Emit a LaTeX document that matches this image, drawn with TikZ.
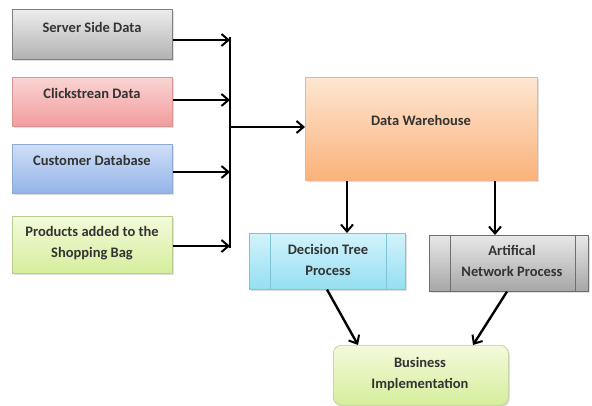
\documentclass[tikz,border=0pt]{standalone}
\usepackage{fontspec}
\setmainfont{Carlito}
\usetikzlibrary{arrows.meta,shadows}

% palette
\definecolor{gryT}{HTML}{EDEDED}\definecolor{gryB}{HTML}{B2B2B2}\definecolor{gryL}{HTML}{7F7F7F}
\definecolor{redT}{HTML}{FAD4D4}\definecolor{redB}{HTML}{F29C9C}\definecolor{redL}{HTML}{D99594}
\definecolor{bluT}{HTML}{CFDFF6}\definecolor{bluB}{HTML}{93B4EA}\definecolor{bluL}{HTML}{8EA9D3}
\definecolor{grnT}{HTML}{F3FADB}\definecolor{grnB}{HTML}{D5EE9C}\definecolor{grnL}{HTML}{B9CE8E}
\definecolor{orgT}{HTML}{FEE6D2}\definecolor{orgB}{HTML}{FAB27A}\definecolor{orgL}{HTML}{F2B38A}
\definecolor{cynT}{HTML}{D2F3FC}\definecolor{cynB}{HTML}{95DFF2}\definecolor{cynL}{HTML}{7EC4D6}
\definecolor{anT}{HTML}{E8E8E8}\definecolor{anB}{HTML}{A6A6A6}\definecolor{anL}{HTML}{6E6E6E}

\tikzset{
  box/.style n args={3}{draw=#3, line width=0.6pt, rectangle,
    top color=#1, bottom color=#2, inner sep=0pt,
    drop shadow={shadow xshift=1.5pt, shadow yshift=-1.5pt, opacity=0.25}},
  lbl/.style={font=\bfseries\fontsize{14.5}{21}\selectfont, text=black!80, align=center},
  flow/.style={line width=2.4pt, -{Straight Barb[length=7pt,width=12pt,line width=2pt]}},
  bar/.style={line width=2.4pt},
}

\begin{document}
\begin{tikzpicture}[x=1pt,y=-1pt]
\useasboundingbox (0,0) rectangle (592,406);

% input sources
\node[box={gryT}{gryB}{gryL}, minimum width=160, minimum height=50, anchor=north west]
  (srv) at (12,9) {};
\node[lbl] at (92,27) {Server Side Data};

\node[box={redT}{redB}{redL}, minimum width=160, minimum height=49, anchor=north west]
  (clk) at (12,77) {};
\node[lbl] at (92,93) {Clickstrean Data};

\node[box={bluT}{bluB}{bluL}, minimum width=160, minimum height=49, anchor=north west]
  (cust) at (12,144) {};
\node[lbl] at (92,160) {Customer Database};

\node[box={grnT}{grnB}{grnL}, minimum width=160, minimum height=57, anchor=north west]
  (prod) at (12,216) {};
\node[lbl] at (92,243) {Products added to the\\Shopping Bag};

% collector bar
\coordinate (bt) at (230,37);
\coordinate (bb) at (230,248);
\draw[bar] (bt) -- (bb);
\draw[flow] (srv.east |- 0,40) -- (230,40);
\draw[flow] (clk.east |- 0,100) -- (230,100);
\draw[flow] (cust.east |- 0,172) -- (230,172);
\draw[flow] (prod.east |- 0,246) -- (230,246);

% warehouse
\node[box={orgT}{orgB}{orgL}, minimum width=232, minimum height=103, anchor=north west]
  (dw) at (305,77) {};
\node[lbl] at (421,120) {Data Warehouse};
\coordinate (bj) at (230,127);
\draw[flow] (bj) -- (dw.west |- bj);

% processes
\node[box={cynT}{cynB}{cynL}, minimum width=156, minimum height=56, anchor=north west]
  (dt) at (249,233) {};
\draw[cynL, line width=0.6pt] (270,233) -- (270,289) (386,233) -- (386,289);
\node[lbl] at (328,260) {Decision Tree\\Process};

\node[box={anT}{anB}{anL}, minimum width=159, minimum height=56, anchor=north west]
  (an) at (429,235) {};
\draw[anL, line width=0.6pt] (450,235) -- (450,291) (575,235) -- (575,291);
\node[lbl] at (512,261) {Artifical\\Network Process};

\draw[flow] (dw.south -| 347,0) -- (dt.north -| 347,0);
\draw[flow] (dw.south -| 495,0) -- (an.north -| 495,0);

% result
\node[box={grnT}{grnB}{grnL}, rounded corners=8pt,
  minimum width=175, minimum height=60, anchor=north west]
  (biz) at (333,345) {};
\node[lbl] at (420,374) {Business\\Implementation};

\draw[flow] (dt.south -| 327,0) -- (biz.north -| 358,0);
\draw[flow] (an.south -| 507,0) -- (biz.north -| 473,0);
\end{tikzpicture}
\end{document}
